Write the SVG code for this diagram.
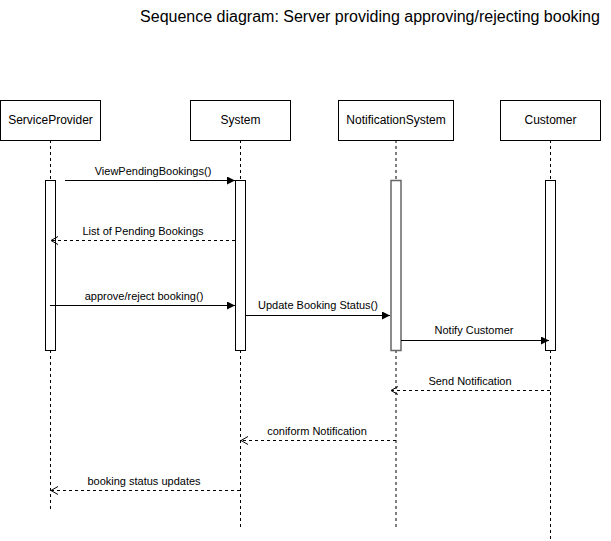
<svg xmlns="http://www.w3.org/2000/svg" width="611" height="541" viewBox="0 0 611 541">
<style>
.box{fill:#fff;stroke:#000;stroke-width:1}
.life{stroke:#000;stroke-width:1;stroke-dasharray:3 3;fill:none}
.act{fill:#fff;stroke:#000;stroke-width:1}
.lbl{font-family:"Liberation Sans",Arial,sans-serif;font-size:12px;fill:#000;text-anchor:middle}
.msg{font-family:"Liberation Sans",Arial,sans-serif;font-size:11px;fill:#000;text-anchor:middle}
.sync{stroke:#000;stroke-width:1;fill:none;marker-end:url(#filled)}
.ret{stroke:#000;stroke-width:1;fill:none;stroke-dasharray:3 3;marker-end:url(#open)}
</style>
<defs>
<marker id="filled" markerWidth="10" markerHeight="10" refX="8" refY="4" orient="auto" markerUnits="userSpaceOnUse">
<path d="M0,0 L8,4 L0,8 Z" fill="#000"/>
</marker>
<marker id="open" markerWidth="10" markerHeight="10" refX="7" refY="4" orient="auto" markerUnits="userSpaceOnUse">
<path d="M0,0 L7,4 L0,8" fill="none" stroke="#000" stroke-width="1"/>
</marker>
</defs>
<rect width="611" height="541" fill="#fff"/>
<text x="370" y="22" font-family="'Liberation Sans',Arial,sans-serif" font-size="16" text-anchor="middle" fill="#000">Sequence diagram: Server providing approving/rejecting booking</text>

<g id="ServiceProvider">
<line class="life" x1="50.5" y1="140" x2="50.5" y2="510"/>
<rect class="box" x="0.5" y="100.5" width="100" height="40"/>
<text class="lbl" x="50.5" y="124">ServiceProvider</text>
<rect class="act" x="45.5" y="180.5" width="10" height="170"/>
</g>
<g id="System">
<line class="life" x1="240.5" y1="140" x2="240.5" y2="527"/>
<rect class="box" x="190.5" y="100.5" width="100" height="40"/>
<text class="lbl" x="240.5" y="124">System</text>
<rect class="act" x="235.5" y="180.5" width="10" height="170"/>
</g>
<g id="NotificationSystem">
<line class="life" x1="396" y1="140" x2="396" y2="527" stroke="#555"/>
<rect class="box" x="338.5" y="100.5" width="115" height="40"/>
<text class="lbl" x="396" y="124">NotificationSystem</text>
<rect class="act" x="391" y="180.5" width="10" height="170" style="stroke:#666;stroke-width:1.5"/>
</g>
<g id="Customer">
<line class="life" x1="550.5" y1="140" x2="550.5" y2="541"/>
<rect class="box" x="500.5" y="100.5" width="100" height="40"/>
<text class="lbl" x="550.5" y="124">Customer</text>
<rect class="act" x="545.5" y="180.5" width="10" height="170"/>
</g>

<g id="connectors">
<line class="sync" x1="65" y1="180.5" x2="235" y2="180.5"/>
<text class="msg" x="153" y="175">ViewPendingBookings()</text>
<line class="ret" x1="235" y1="240.5" x2="51" y2="240.5"/>
<text class="msg" x="143" y="235">List of Pending Bookings</text>
<line class="sync" x1="50" y1="305.5" x2="235" y2="305.5"/>
<text class="msg" x="144" y="300">approve/reject booking()</text>
<line class="sync" x1="245" y1="315.5" x2="390" y2="315.5"/>
<text class="msg" x="318" y="309">Update Booking Status()</text>
<line class="sync" x1="401" y1="340.5" x2="549" y2="340.5"/>
<text class="msg" x="474" y="334">Notify Customer</text>
<line class="ret" x1="550" y1="390.5" x2="391" y2="390.5"/>
<text class="msg" x="470" y="385">Send Notification</text>
<line class="ret" x1="396" y1="440.5" x2="241" y2="440.5"/>
<text class="msg" x="317" y="435">coniform Notification</text>
<line class="ret" x1="240" y1="490.5" x2="51" y2="490.5"/>
<text class="msg" x="144" y="485">booking status updates</text>
</g>
</svg>
